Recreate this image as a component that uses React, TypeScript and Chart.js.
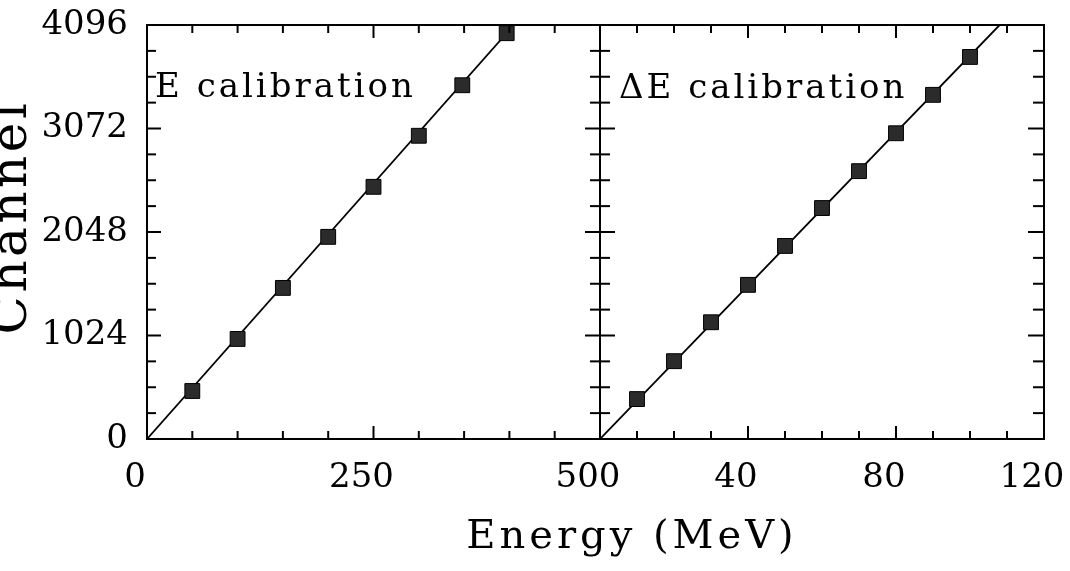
import React, { useEffect, useRef } from "react";
import { Chart, registerables } from "chart.js";

Chart.register(...registerables);

// ---- Data ----
const eEnergy = [50, 100, 150, 200, 250, 300, 348, 397];
const eChannel = [475, 990, 1495, 2000, 2495, 3000, 3500, 4015];
const eFitEnergy = [0, 405];
const eFitChannel = [0, 4096];

const dEEnergy = [10, 20, 30, 40, 50, 60, 70, 80, 90, 100];
const dEChannel = [395, 770, 1155, 1525, 1910, 2285, 2650, 3025, 3405, 3780];
const dEFitEnergy = [0, 108];
const dEFitChannel = [0, 4096];

// axis ranges and tick spacing
const eRange = [0, 500];
const dERange = [0, 120];
const channelRange = [0, 4096];
const eTickStep = 250;
const eMinorStep = 50;
const dETickStep = 40;
const dEMinorStep = 10;
const channelTickStep = 1024;
const channelMinorStep = 256;

const panelLabels = ["E calibration", "\u0394E calibration"];
const xTitle = "Energy (MeV)";
const yTitle = "Channel";

const FONT = "'DejaVu Serif', 'Liberation Serif', serif";

const toXY = (xs: number[], ys: number[]) => xs.map((x, i) => ({ x, y: ys[i] }));

const framePlugin = {
  id: "frame",
  afterDraw(chart: any) {
    const ctx = chart.ctx as any;
    const { top, bottom } = chart.chartArea;
    const y = chart.scales.y;
    const xE = chart.scales.xE;
    const xDE = chart.scales.xDE;
    ctx.save();
    ctx.strokeStyle = "#000";
    ctx.lineWidth = 2;
    ctx.lineCap = "butt";
    const seg = (x1: number, y1: number, x2: number, y2: number) => {
      ctx.beginPath();
      ctx.moveTo(x1, y1);
      ctx.lineTo(x2, y2);
      ctx.stroke();
    };
    const panels = [
      { sc: xE, minor: eMinorStep, major: eTickStep },
      { sc: xDE, minor: dEMinorStep, major: dETickStep },
    ];
    panels.forEach(({ sc, minor, major }) => {
      ctx.strokeRect(sc.left, top, sc.right - sc.left, bottom - top);
      for (let v = sc.min + minor; v < sc.max - 1e-9; v += minor) {
        const px = sc.getPixelForValue(v);
        const isMajor = Math.abs(v % major) < 1e-9;
        const len = isMajor ? 13 : 8;
        seg(px, bottom, px, bottom - len);
        seg(px, top, px, top + len);
      }
    });
    const left = xE.left;
    const divider = xE.right;
    const right = xDE.right;
    for (let v = channelMinorStep; v < y.max - 1e-9; v += channelMinorStep) {
      const py = y.getPixelForValue(v);
      const isMajor = v % channelTickStep === 0;
      seg(left, py, left + (isMajor ? 14 : 9), py);
      seg(divider - (isMajor ? 15 : 10), py, divider + (isMajor ? 15 : 10), py);
      seg(right - (isMajor ? 16 : 11), py, right, py);
    }
    // texts
    ctx.fillStyle = "#000";
    ctx.textAlign = "left";
    ctx.textBaseline = "alphabetic";
    ctx.font = `34px ${FONT}`;
    ctx.letterSpacing = "3px";
    ctx.fillText(panelLabels[0], xE.left + 8, top + 72);
    ctx.fillText(panelLabels[1], xDE.left + 19, top + 73);

    ctx.font = `40px ${FONT}`;
    ctx.letterSpacing = "4px";
    ctx.textAlign = "center";
    ctx.fillText(xTitle, 632, 548);

    ctx.save();
    ctx.translate(26, 217);
    ctx.rotate(-Math.PI / 2);
    ctx.font = `50px ${FONT}`;
    ctx.letterSpacing = "3.5px";
    ctx.textAlign = "center";
    ctx.fillText(yTitle, 0, 0);
    ctx.restore();
    ctx.letterSpacing = "0px";
    ctx.restore();
  },
};

export default function App() {
  const ref = useRef<HTMLCanvasElement | null>(null);
  useEffect(() => {
    if (!ref.current) return;
    const tickFont = { family: FONT, size: 34 };
    const plain = (v: any) => String(v);
    const chart = new Chart(ref.current, {
      type: "scatter",
      data: {
        datasets: [
          {
            label: "E points",
            data: toXY(eEnergy, eChannel),
            xAxisID: "xE",
            yAxisID: "y",
            pointStyle: "rect",
            pointRadius: 10.5,
            backgroundColor: "#2b2b2b",
            borderColor: "#000",
            borderWidth: 1,
            order: 1,
          },
          {
            label: "E fit",
            data: toXY(eFitEnergy, eFitChannel),
            xAxisID: "xE",
            yAxisID: "y",
            showLine: true,
            pointRadius: 0,
            borderColor: "#000",
            borderWidth: 1.8,
            order: 2,
          },
          {
            label: "dE points",
            data: toXY(dEEnergy, dEChannel),
            xAxisID: "xDE",
            yAxisID: "y",
            pointStyle: "rect",
            pointRadius: 10.5,
            backgroundColor: "#2b2b2b",
            borderColor: "#000",
            borderWidth: 1,
            order: 1,
          },
          {
            label: "dE fit",
            data: toXY(dEFitEnergy, dEFitChannel),
            xAxisID: "xDE",
            yAxisID: "y",
            showLine: true,
            pointRadius: 0,
            borderColor: "#000",
            borderWidth: 1.8,
            order: 2,
          },
        ],
      },
      options: {
        responsive: false,
        animation: false,
        devicePixelRatio: 1,
        layout: { padding: { top: 25, right: 26, left: 0, bottom: 0 } },
        plugins: { legend: { display: false }, tooltip: { enabled: false }, title: { display: false } },
        scales: {
          xE: {
            type: "linear",
            position: "bottom",
            stack: "energy",
            stackWeight: 453,
            min: eRange[0],
            max: eRange[1],
            grid: { display: false, drawTicks: false },
            border: { display: false },
            ticks: {
              stepSize: eTickStep,
              font: tickFont,
              color: "#000",
              padding: 19,
              labelOffset: -12,
              maxRotation: 0,
              autoSkip: false,
              callback: plain,
            },
            afterFit(s: any) {
              s.height = 132;
              s.paddingLeft = 0;
              s.paddingRight = 0;
            },
          },
          xDE: {
            type: "linear",
            position: "bottom",
            stack: "energy",
            stackWeight: 444,
            min: dERange[0],
            max: dERange[1],
            grid: { display: false, drawTicks: false },
            border: { display: false },
            ticks: {
              stepSize: dETickStep,
              font: tickFont,
              color: "#000",
              padding: 19,
              labelOffset: -12,
              maxRotation: 0,
              autoSkip: false,
              callback: (v: any) => (Number(v) === 0 ? "" : String(v)),
            },
            afterFit(s: any) {
              s.height = 132;
              s.paddingLeft = 0;
              s.paddingRight = 0;
            },
          },
          y: {
            type: "linear",
            position: "left",
            min: channelRange[0],
            max: channelRange[1],
            grid: { display: false, drawTicks: false },
            border: { display: false },
            ticks: {
              stepSize: channelTickStep,
              font: tickFont,
              color: "#000",
              padding: 19,
              autoSkip: false,
              callback: plain,
            },
            afterFit(s: any) {
              s.width = 147;
              s.paddingTop = 0;
              s.paddingBottom = 0;
            },
          },
        },
      } as any,
      plugins: [framePlugin],
    });
    return () => chart.destroy();
  }, []);
  return (
    <div style={{ position: "fixed", left: 0, top: 0, width: 1070, height: 571, background: "#fff" }}>
      <canvas ref={ref} width={1070} height={571} style={{ display: "block" }} />
    </div>
  );
}
